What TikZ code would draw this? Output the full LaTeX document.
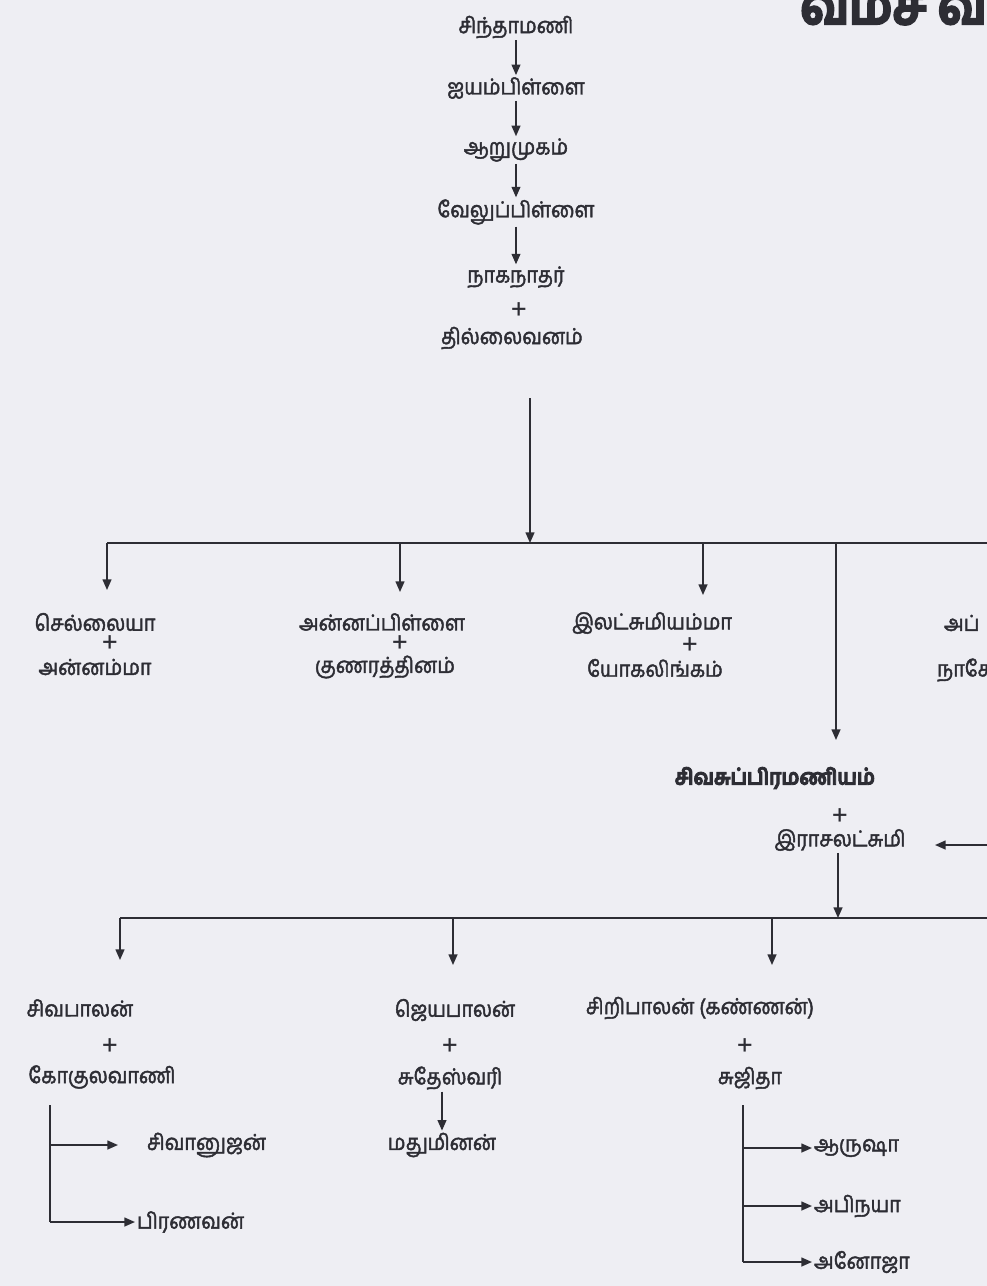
\documentclass[tikz,border=0pt]{standalone}
\usepackage{fontspec}
\newfontfamily\tamil[Script=Tamil, FakeStretch=0.9, FakeBold=2, BoldFeatures={FakeBold=4}]{Hind Madurai}
\newfontfamily\plusfont{Hind Madurai}
\usetikzlibrary{arrows.meta}
\definecolor{paper}{RGB}{238,238,243}
\definecolor{ink}{RGB}{45,45,52}

\begin{document}
\begin{tikzpicture}[x=0.02cm, y=-0.02cm, font=\tamil\fontsize{12.5}{15}\selectfont]
      \tikzset{
	  person/.style={text=ink, inner sep=1pt},
	  wed/.style={text=ink, inner sep=0pt, font=\plusfont\fontsize{17}{17}\selectfont},
	  heading/.style={text=ink, inner sep=0pt, font=\tamil\bfseries\fontsize{30}{30}\selectfont},
	  kin/.style={draw=ink, line width=0.9pt, -{Triangle[length=6pt,width=5pt]}},
	  bus/.style={draw=ink, line width=0.9pt}
      }
      \useasboundingbox (0,0) rectangle (987,1286);
      \clip (0,0) rectangle (987,1286);
      \fill[paper] (0,0) rectangle (987,1286);

      \node[heading, anchor=base west] (head) at (800,24) {வம்ச வ};

      % line of descent
      \node[person] (p1) at (516,27) {சிந்தாமணி};
      \node[person] (p2) at (516,88) {ஐயம்பிள்ளை};
      \node[person] (p3) at (516,150) {ஆறுமுகம்};
      \node[person] (p4) at (516,212) {வேலுப்பிள்ளை};
      \node[person] (p5) at (516,277) {நாகநாதர்};
      \node[wed] (p5w) at (519,311) {+};
      \node[person] (p6) at (512,338) {தில்லைவனம்};
      \draw[kin] (p1) -- (p2);
      \draw[kin] (p2) -- (p3);
      \draw[kin] (p3) -- (p4);
      \draw[kin] (p4) -- (p5);

      \coordinate (drop) at (530,398);
      \coordinate (hub) at (530,543);
      \coordinate (busL) at (107,543);
      \coordinate (busR) at (987,543);
      \draw[kin] (drop) -- (hub);
      \draw[bus] (busL) -- (busR);

      % children
      \node[person] (sel) at (95,622) {செல்லையா};
      \node[wed] (selw) at (110,644) {+};
      \node[person] (ann) at (95,667) {அன்னம்மா};
      \node[person] (anp) at (382,622) {அன்னப்பிள்ளை};
      \node[wed] (anpw) at (400,644) {+};
      \node[person] (guna) at (385,667) {குணரத்தினம்};
      \node[person] (ila) at (652,623) {இலட்சுமியம்மா};
      \node[wed] (ilaw) at (690,646) {+};
      \node[person] (yoga) at (655,668) {யோகலிங்கம்};
      \node[person, anchor=west] (app) at (942,623) {அப்};
      \node[person, anchor=west] (nag) at (935,670) {நாகே};
      \node[person, font=\tamil\bfseries\fontsize{12.5}{15}\selectfont] (siva) at (775,778) {சிவசுப்பிரமணியம்};
      \node[wed] (sivaw) at (840,817) {+};
      \node[person] (raja) at (840,840) {இராசலட்சுமி};

      \draw[kin] (busL) -- (107,590);
      \draw[kin] (anpw |- busL) -- (400,592);
      \draw[kin] (703,543) -- (703,595);
      \draw[kin] (836,543) -- (836,740);

      \coordinate (inR) at (987,845);
      \coordinate (inTip) at (935,845);
      \draw[kin] (inR) -- (inTip);

      \coordinate (hub2) at (838,918);
      \coordinate (bus2L) at (120,918);
      \coordinate (bus2R) at (987,918);
      \draw[kin] (raja.south -| hub2) -- (hub2);
      \draw[bus] (bus2L) -- (bus2R);
      \draw[kin] (bus2L) -- (120,960);
      \draw[kin] (453,918) -- (453,965);
      \draw[kin] (772,918) -- (772,965);

      % grandchildren
      \node[person] (sbl) at (80,1008) {சிவபாலன்};
      \node[wed] (sblw) at (110,1047) {+};
      \node[person] (goku) at (102,1077) {கோகுலவாணி};
      \node[person] (jbl) at (455,1010) {ஜெயபாலன்};
      \node[wed] (jblw) at (450,1047) {+};
      \node[person] (sude) at (450,1078) {சுதேஸ்வரி};
      \node[person] (madhu) at (442,1145) {மதுமினன்};
      \draw[kin] (sude.south -| madhu) -- (madhu);
      \node[person] (sri) at (700,1008) {சிறிபாலன் (கண்ணன்)};
      \node[wed] (sriw) at (745,1047) {+};
      \node[person] (suji) at (750,1078) {சுஜிதா};

      \node[person, anchor=west] (k1) at (145,1145) {சிவானுஜன்};
      \node[person, anchor=west] (k2) at (135,1222) {பிரணவன்};
      \draw[bus] (50,1105) -- (50,1222);
      \draw[kin] (50,1145) -- (118,1145);
      \draw[kin] (50,1222) -- (k2.west);

      \node[person, anchor=west] (k3) at (812,1148) {ஆருஷா};
      \node[person, anchor=west] (k4) at (812,1206) {அபிநயா};
      \node[person, anchor=west] (k5) at (812,1262) {அனோஜா};
      \draw[bus] (743,1105) -- (743,1262);
      \draw[kin] (743,1148) -- (k3.west);
      \draw[kin] (743,1206) -- (k4.west);
      \draw[kin] (743,1262) -- (k5.west);
\end{tikzpicture}
\end{document}
